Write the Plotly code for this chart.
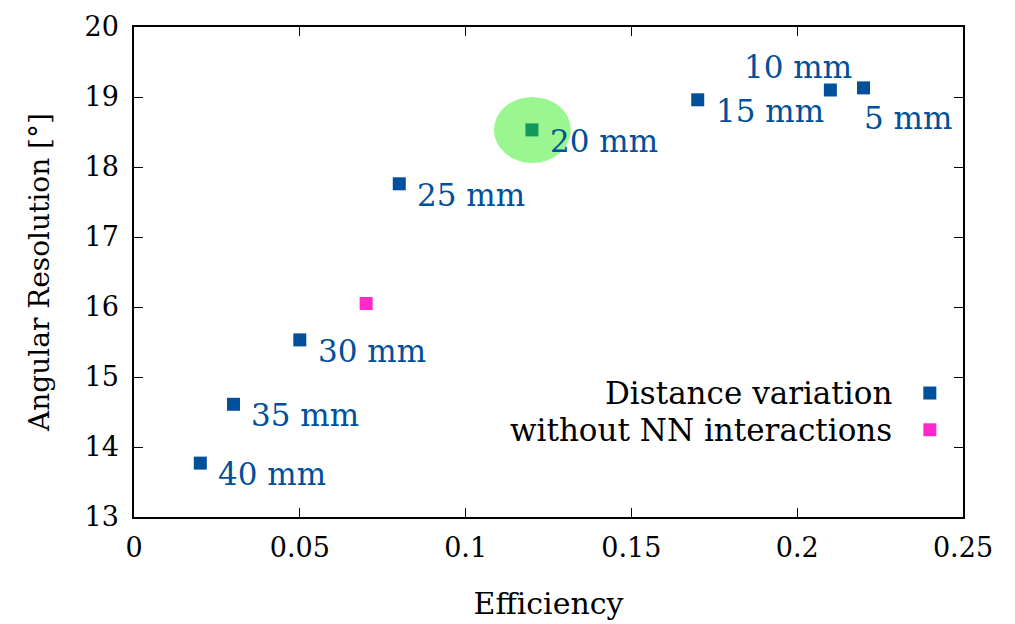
import plotly.graph_objects as go

# Data
labels = ["5 mm", "10 mm", "15 mm", "20 mm", "25 mm", "30 mm", "35 mm", "40 mm"]
efficiency = [0.22, 0.21, 0.17, 0.12, 0.08, 0.05, 0.03, 0.02]
resolution = [19.13, 19.10, 18.96, 18.53, 17.76, 15.53, 14.61, 13.77]
nn_eff = [0.07]
nn_res = [16.05]
highlight_eff = 0.12
highlight_res = 18.53

BLUE = "rgb(0,80,155)"
PINK = "rgb(255,40,200)"
FONT = "DejaVu Serif"
FS_TICK = 27
FS_TXT = 31

fig = go.Figure()
fig.add_trace(go.Scatter(x=efficiency, y=resolution, mode="markers",
                         marker=dict(symbol="square", size=13, color=BLUE),
                         name="Distance variation", showlegend=False))
fig.add_trace(go.Scatter(x=nn_eff, y=nn_res, mode="markers",
                         marker=dict(symbol="square", size=13, color=PINK),
                         name="without NN interactions", showlegend=False))

# point labels (offsets in pixels)
offsets = {"5 mm": (-2, -30, "left"), "10 mm": (24, 23, "right")}
for lab, x, y in zip(labels, efficiency, resolution):
    dx, dy, anc = offsets.get(lab, (16, -11, "left"))
    fig.add_annotation(x=x, y=y, text=lab, showarrow=False, xanchor=anc,
                       yanchor="middle", xshift=dx, yshift=dy,
                       font=dict(family=FONT, size=FS_TXT, color=BLUE))

# highlight ellipse
fig.add_shape(type="circle", xref="x", yref="y", xsizemode="pixel", ysizemode="pixel",
              xanchor=highlight_eff, yanchor=highlight_res,
              x0=-38, x1=39, y0=-33, y1=33,
              fillcolor="rgba(40,235,20,0.47)", line=dict(width=0), layer="above")

# legend (gnuplot-style: text right-aligned, symbol at right)
leg = [("Distance variation", BLUE, 0.253), ("without NN interactions", PINK, 0.178)]
for txt, col, yy in leg:
    fig.add_annotation(xref="paper", yref="paper", x=0.917, y=yy, text=txt,
                       showarrow=False, xanchor="right", yanchor="middle",
                       font=dict(family=FONT, size=FS_TXT, color="black"))
    fig.add_shape(type="rect", xref="paper", yref="paper", xsizemode="pixel",
                  ysizemode="pixel", xanchor=0.96, yanchor=yy,
                  x0=-6.5, x1=6.5, y0=-6.5, y1=6.5, fillcolor=col, line=dict(width=0))

axis_common = dict(showgrid=False, zeroline=False, showline=True, linecolor="black",
                   linewidth=1.5, mirror="ticks", ticks="inside", ticklen=9,
                   tickwidth=1.2, tickcolor="black", automargin=False,
                   tickfont=dict(family=FONT, size=FS_TICK, color="black"))

fig.update_layout(
    width=1015, height=624,
    margin=dict(l=126, r=60, t=19, b=115),
    paper_bgcolor="white", plot_bgcolor="white",
    xaxis=dict(range=[0, 0.25], tickvals=[0, 0.05, 0.1, 0.15, 0.2, 0.25],
               ticktext=["0", "0.05", "0.1", "0.15", "0.2", "0.25"],
               ticklabelstandoff=6,
               title=dict(text="Efficiency", font=dict(family=FONT, size=30, color="black"),
                          standoff=31),
               **axis_common),
    yaxis=dict(range=[13, 20], tickvals=list(range(13, 21)),
               ticklabelstandoff=8,
               title=dict(text="Angular Resolution [°]",
                          font=dict(family=FONT, size=28, color="black"), standoff=27),
               **axis_common),
)

fig.write_html("out.html")
